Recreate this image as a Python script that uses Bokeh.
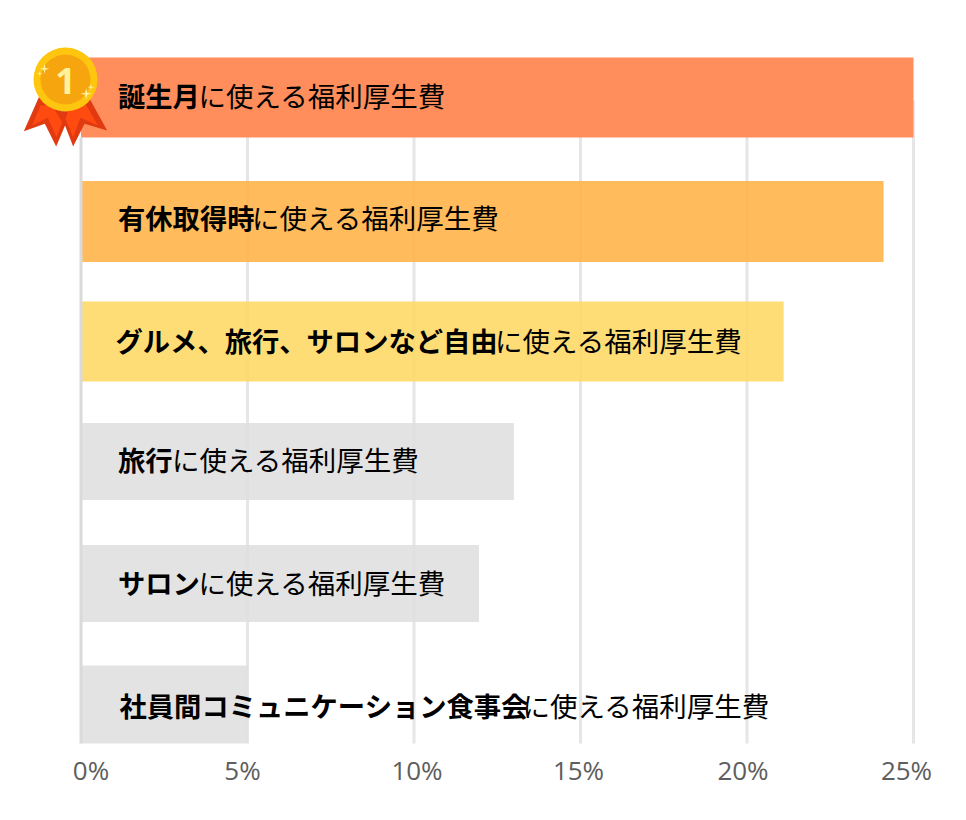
from bokeh.plotting import figure
from bokeh.models import Range1d
from bokeh.core.properties import value
from bokeh.embed import file_html
from bokeh.resources import INLINE

# ---- data ----
bold_parts = ["誕生月", "有休取得時", "グルメ、旅行、サロンなど自由", "旅行", "サロン", "社員間コミュニケーション食事会"]
regular_part = "に使える福利厚生費"
shares = [25.0, 24.1, 21.1, 13.0, 11.95, 5.0]
ticks = [0, 5, 10, 15, 20, 25]
tick_labels = ["0%", "5%", "10%", "15%", "20%", "25%"]

# ---- layout and style (picture pixels) ----
X0, PX_PER_PCT = 80.5, 33.3
row_centres = [97, 221, 341, 461, 583, 704]
row_heights = [80, 81, 80, 77, 77, 78]
label_centres = [94, 216, 339, 458, 581, 704]
label_insets = [37, 37, 34.5, 37, 37, 38.5]
regular_nudge = [-.5, -1, 1.5, 0, -.5, -2]
tick_offsets = [10, -5, 3, -2, -4, -7]
bar_colours = ["#FF8E5C", "#FFB246", "#FFD863", "#DFDFDF", "#DFDFDF", "#DFDFDF"]
bar_alphas = [1, .88, .88, .88, .88, .88]
FS = 27

def dx(px):
    return (px - X0) / PX_PER_PCT

p = figure(width=950, height=804, output_backend="svg", toolbar_location=None,
           x_range=Range1d(dx(0), dx(950)), y_range=Range1d(804, 0),
           min_border=0, outline_line_color=None)
p.axis.visible = False
p.grid.visible = False
p.background_fill_color = "white"

# grid lines
p.segment(x0=ticks[1:], x1=ticks[1:], y0=[100] * 5, y1=[743] * 5,
          line_color="#E6E6E6", line_width=3)

# bars
p.hbar(y=row_centres, right=shares, left=0, height=row_heights,
       fill_color=bar_colours, fill_alpha=bar_alphas, line_color=None)

# zero line
p.segment(x0=[0], x1=[0], y0=[137], y1=[743], line_color="#DADADA", line_width=3)

# tick labels
p.text(x=ticks, y=[769] * 6, text=tick_labels, x_offset=tick_offsets,
       text_font=value("Open Sans"), text_font_size="26px", text_color="#5E5E5E",
       text_align="center", text_baseline="middle")

# bar labels
p.text(x=[0] * 6, y=label_centres, text=bold_parts, x_offset=label_insets,
       text_font=value("Noto Sans CJK JP"), text_font_size="27.3px", text_font_style="bold",
       text_color="#000000", text_align="left", text_baseline="middle")
p.text(x=[0] * 6, y=label_centres, text=[regular_part] * 6,
       x_offset=[i + len(b) * FS + n for i, b, n in zip(label_insets, bold_parts, regular_nudge)],
       text_font=value("Noto Sans CJK JP"), text_font_size="27.5px",
       text_color="#000000", text_align="left", text_baseline="middle")

# medal (drawn in picture pixels, from a 3x-zoom sketch)
def poly(pts):
    return [dx(20 + a / 3) for a, b in pts], [40 + b / 3 for a, b in pts]

ribbons = [
    ([(55, 170), (10, 272), (73, 250), (107, 318), (140, 240), (100, 170)], "#E23A10"),
    ([(205, 170), (260, 270), (192, 250), (158, 318), (120, 220), (160, 170)], "#E23A10"),
    ([(60, 195), (35, 255), (82, 232), (108, 290), (125, 245), (95, 195)], "#FF4A10"),
    ([(195, 190), (232, 255), (180, 232), (158, 290), (135, 235), (150, 190)], "#FF4A10"),
]
for pts, col in ribbons:
    xs, ys = poly(pts)
    p.patch(xs, ys, fill_color=col, line_color=None)

p.circle(x=[dx(65)], y=[79], radius=32 / PX_PER_PCT, fill_color="#FFC60F", line_color=None)
p.circle(x=[dx(65)], y=[79], radius=25 / PX_PER_PCT, fill_color="#F7A50E", line_color=None)

def star(cx, cy, r):
    k = r * .18
    return [(cx, cy - r), (cx + k, cy - k), (cx + r, cy), (cx + k, cy + k),
            (cx, cy + r), (cx - k, cy + k), (cx - r, cy), (cx - k, cy - k)]

for cx, cy, r in [(72, 85, 15), (58, 100, 9), (197, 160, 17), (211, 140, 10)]:
    xs, ys = poly(star(cx, cy, r))
    p.patch(xs, ys, fill_color="#FFF3A0", line_color=None)

p.text(x=[dx(65)], y=[80], text=["1"], text_font=value("Open Sans"), text_font_style="bold",
       text_font_size="36px", text_color="#FFF29B", text_align="center", text_baseline="middle")

open("out.html", "w").write(file_html(p, INLINE))
